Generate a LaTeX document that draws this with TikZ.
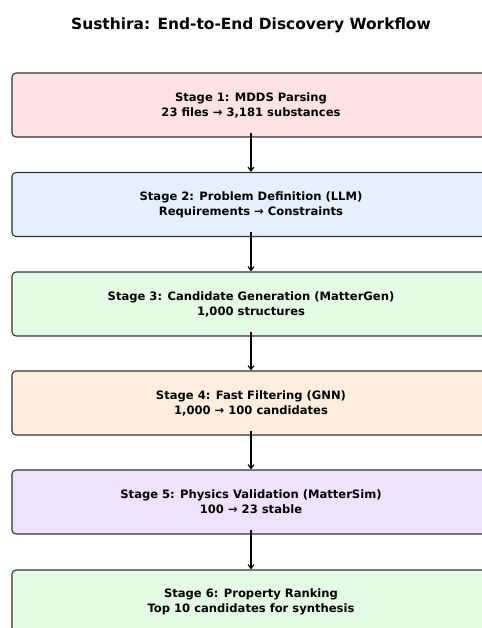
\documentclass[tikz,border=0pt]{standalone}
\usepackage{fontspec}
\setmainfont{DejaVu Sans}
\usetikzlibrary{arrows.meta}

\definecolor{pinkbox}{HTML}{FFE2E2}
\definecolor{bluebox}{HTML}{E4F0FE}
\definecolor{greenbox}{HTML}{E4FCE4}
\definecolor{peachbox}{HTML}{FFEEDE}
\definecolor{lilacbox}{HTML}{EFE2FD}

\tikzset{
	stagebox/.style = {draw = black!80, line width = 1.1bp, rounded corners = 4bp,
		minimum width = 478bp, minimum height = 64bp, align = center,
		font = \bfseries\fontsize{11.6}{15}\selectfont},
	flow/.style = {-{Straight Barb[length = 4bp, width = 6bp]}, line width = 1.1bp}
}

\begin{document}
\begin{tikzpicture}[x = 1bp, y = -1bp]
	\useasboundingbox (0, 0) rectangle (482, 628);
	\clip (0, 0) rectangle (482, 628);
	
	\node (title) at (251, 25) {\bfseries\fontsize{15.5}{18}\selectfont Susthira: End-to-End Discovery Workflow};
	
	\node[stagebox, fill = pinkbox]  (s1) at (251, 105.0) {Stage 1: MDDS Parsing\\23 files → 3,181 substances};
	\node[stagebox, fill = bluebox]  (s2) at (251, 204.5) {Stage 2: Problem Definition (LLM)\\Requirements → Constraints};
	\node[stagebox, fill = greenbox] (s3) at (251, 304.0) {Stage 3: Candidate Generation (MatterGen)\\1,000 structures};
	\node[stagebox, fill = peachbox] (s4) at (251, 403.0) {Stage 4: Fast Filtering (GNN)\\1,000 → 100 candidates};
	\node[stagebox, fill = lilacbox] (s5) at (251, 502.0) {Stage 5: Physics Validation (MatterSim)\\100 → 23 stable};
	\node[stagebox, fill = greenbox] (s6) at (251, 602.0) {Stage 6: Property Ranking\\Top 10 candidates for synthesis};
	
	\foreach \a/\b in {s1/s2, s2/s3, s3/s4, s4/s5, s5/s6} {
		\draw[flow] ([yshift = 5bp]\a.south) -- (\b.north);
	}
\end{tikzpicture}
\end{document}
